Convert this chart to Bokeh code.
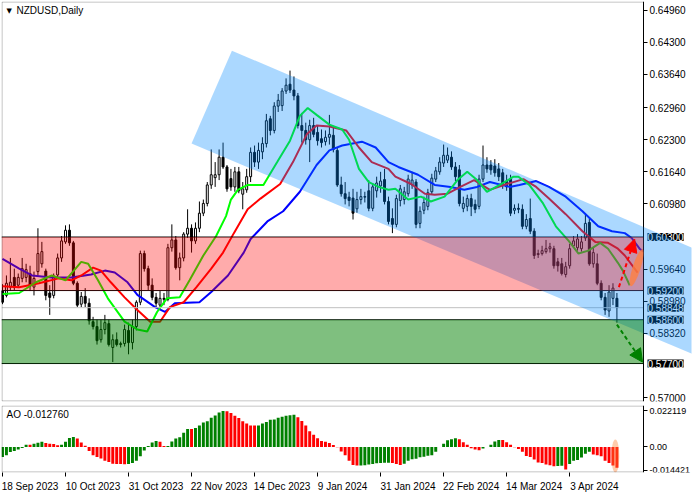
import numpy as np
from bokeh.plotting import figure
from bokeh.layouts import column
from bokeh.models import (Range1d, FixedTicker, PrintfTickFormatter, CustomJSTickFormatter,
                          BoxAnnotation, PolyAnnotation, Label, Arrow, NormalHead)
from bokeh.embed import file_html
from bokeh.resources import INLINE

# ---------------- data ----------------
opens = [
    0.5919, 0.5910, 0.5927, 0.5947, 0.5931, 0.5945, 0.5947, 0.5955, 0.5927, 0.5959,
    0.5975, 0.5960, 0.5915, 0.5910, 0.5952, 0.5987, 0.6020, 0.6044, 0.6018, 0.5935,
    0.5892, 0.5908, 0.5894, 0.5856, 0.5846, 0.5819, 0.5840, 0.5852, 0.5803, 0.5819,
    0.5809, 0.5811, 0.5838, 0.5813, 0.5846, 0.5896, 0.5996, 0.5965, 0.5931, 0.5906,
    0.5890, 0.5904, 0.5902, 0.6008, 0.6024, 0.5967, 0.5987, 0.6036, 0.6048, 0.6022,
    0.6048, 0.6079, 0.6099, 0.6137, 0.6152, 0.6158, 0.6194, 0.6174, 0.6150, 0.6133,
    0.6164, 0.6118, 0.6127, 0.6154, 0.6204, 0.6184, 0.6205, 0.6222, 0.6273, 0.6249,
    0.6299, 0.6300, 0.6330, 0.6344, 0.6332, 0.6320, 0.6259, 0.6249, 0.6230, 0.6259,
    0.6245, 0.6232, 0.6226, 0.6235, 0.6239, 0.6208, 0.6137, 0.6119, 0.6112, 0.6110,
    0.6088, 0.6107, 0.6113, 0.6125, 0.6089, 0.6125, 0.6135, 0.6148, 0.6103, 0.6068,
    0.6056, 0.6105, 0.6107, 0.6119, 0.6137, 0.6143, 0.6058, 0.6085, 0.6093, 0.6123,
    0.6149, 0.6164, 0.6182, 0.6188, 0.6194, 0.6174, 0.6168, 0.6089, 0.6093, 0.6109,
    0.6097, 0.6093, 0.6149, 0.6178, 0.6178, 0.6176, 0.6170, 0.6162, 0.6145, 0.6149,
    0.6085, 0.6089, 0.6087, 0.6052, 0.6068, 0.6042, 0.5994, 0.5996, 0.6000, 0.6006,
    0.6006, 0.5979, 0.5975, 0.5953, 0.5971, 0.6012, 0.6008, 0.6006, 0.6028, 0.6060,
    0.5975, 0.5975, 0.5935, 0.5906, 0.5878, 0.5904, 0.5904]
highs = [
    0.5933, 0.5951, 0.5987, 0.5965, 0.5955, 0.5987, 0.5975, 0.5971, 0.5959, 0.6048,
    0.6020, 0.5965, 0.5931, 0.5955, 0.5996, 0.6032, 0.6054, 0.6056, 0.6022, 0.5939,
    0.5917, 0.5925, 0.5904, 0.5866, 0.5860, 0.5860, 0.5870, 0.5860, 0.5830, 0.5834,
    0.5815, 0.5850, 0.5854, 0.5860, 0.5900, 0.6002, 0.6002, 0.5971, 0.5945, 0.5915,
    0.5919, 0.5915, 0.6016, 0.6056, 0.6032, 0.5998, 0.6040, 0.6087, 0.6056, 0.6060,
    0.6103, 0.6107, 0.6143, 0.6210, 0.6184, 0.6210, 0.6224, 0.6178, 0.6170, 0.6174,
    0.6174, 0.6143, 0.6170, 0.6214, 0.6218, 0.6224, 0.6235, 0.6283, 0.6279, 0.6307,
    0.6324, 0.6336, 0.6356, 0.6372, 0.6360, 0.6326, 0.6285, 0.6265, 0.6271, 0.6275,
    0.6259, 0.6251, 0.6249, 0.6281, 0.6255, 0.6214, 0.6154, 0.6143, 0.6123, 0.6129,
    0.6123, 0.6129, 0.6123, 0.6147, 0.6141, 0.6154, 0.6164, 0.6170, 0.6113, 0.6089,
    0.6117, 0.6137, 0.6133, 0.6158, 0.6164, 0.6149, 0.6093, 0.6113, 0.6129, 0.6160,
    0.6174, 0.6194, 0.6220, 0.6214, 0.6206, 0.6184, 0.6178, 0.6113, 0.6117, 0.6119,
    0.6107, 0.6158, 0.6218, 0.6194, 0.6188, 0.6190, 0.6182, 0.6170, 0.6158, 0.6158,
    0.6097, 0.6099, 0.6097, 0.6077, 0.6109, 0.6048, 0.6004, 0.6012, 0.6024, 0.6018,
    0.6012, 0.5987, 0.5987, 0.5979, 0.6016, 0.6032, 0.6036, 0.6032, 0.6079, 0.6068,
    0.6008, 0.5996, 0.5941, 0.5915, 0.5931, 0.5935, 0.5915]
lows = [
    0.5892, 0.5906, 0.5919, 0.5921, 0.5925, 0.5937, 0.5937, 0.5919, 0.5910, 0.5951,
    0.5967, 0.5900, 0.5870, 0.5904, 0.5945, 0.5979, 0.6016, 0.6012, 0.5931, 0.5886,
    0.5886, 0.5886, 0.5850, 0.5840, 0.5809, 0.5813, 0.5830, 0.5805, 0.5773, 0.5805,
    0.5803, 0.5805, 0.5789, 0.5799, 0.5838, 0.5890, 0.5959, 0.5921, 0.5900, 0.5886,
    0.5880, 0.5890, 0.5898, 0.6000, 0.5963, 0.5941, 0.5980, 0.6028, 0.5998, 0.6016,
    0.6040, 0.6073, 0.6093, 0.6129, 0.6133, 0.6147, 0.6170, 0.6123, 0.6125, 0.6123,
    0.6120, 0.6087, 0.6121, 0.6143, 0.6174, 0.6170, 0.6190, 0.6214, 0.6239, 0.6243,
    0.6287, 0.6289, 0.6324, 0.6326, 0.6311, 0.6253, 0.6224, 0.6220, 0.6184, 0.6235,
    0.6218, 0.6214, 0.6218, 0.6220, 0.6204, 0.6133, 0.6113, 0.6097, 0.6093, 0.6066,
    0.6080, 0.6097, 0.6101, 0.6083, 0.6083, 0.6111, 0.6121, 0.6097, 0.6056, 0.6038,
    0.6050, 0.6093, 0.6097, 0.6113, 0.6129, 0.6048, 0.6048, 0.6077, 0.6085, 0.6117,
    0.6143, 0.6158, 0.6174, 0.6182, 0.6168, 0.6145, 0.6093, 0.6081, 0.6083, 0.6073,
    0.6079, 0.6087, 0.6143, 0.6162, 0.6158, 0.6154, 0.6145, 0.6129, 0.6125, 0.6073,
    0.6077, 0.6079, 0.6046, 0.6046, 0.6036, 0.5985, 0.5987, 0.5992, 0.5996, 0.5998,
    0.5965, 0.5959, 0.5951, 0.5947, 0.5965, 0.6008, 0.6002, 0.6000, 0.6022, 0.5971,
    0.5967, 0.5931, 0.5900, 0.5870, 0.5866, 0.5890, 0.5854]
closes = [
    0.5896, 0.5935, 0.5937, 0.5927, 0.5947, 0.5965, 0.5963, 0.5929, 0.5945, 0.5996,
    0.6000, 0.5910, 0.5906, 0.5950, 0.5987, 0.6022, 0.6044, 0.6018, 0.5935, 0.5890,
    0.5908, 0.5894, 0.5858, 0.5846, 0.5817, 0.5840, 0.5854, 0.5809, 0.5819, 0.5809,
    0.5811, 0.5840, 0.5813, 0.5846, 0.5896, 0.5996, 0.5965, 0.5931, 0.5906, 0.5894,
    0.5904, 0.5902, 0.6008, 0.6024, 0.5967, 0.5987, 0.6036, 0.6048, 0.6022, 0.6048,
    0.6079, 0.6099, 0.6137, 0.6158, 0.6158, 0.6194, 0.6174, 0.6129, 0.6133, 0.6164,
    0.6125, 0.6129, 0.6154, 0.6204, 0.6184, 0.6208, 0.6222, 0.6269, 0.6249, 0.6299,
    0.6311, 0.6330, 0.6342, 0.6332, 0.6320, 0.6259, 0.6249, 0.6230, 0.6259, 0.6241,
    0.6228, 0.6224, 0.6235, 0.6241, 0.6210, 0.6137, 0.6119, 0.6109, 0.6105, 0.6079,
    0.6107, 0.6113, 0.6112, 0.6089, 0.6133, 0.6141, 0.6145, 0.6103, 0.6062, 0.6056,
    0.6109, 0.6129, 0.6123, 0.6149, 0.6147, 0.6056, 0.6083, 0.6101, 0.6121, 0.6151,
    0.6166, 0.6184, 0.6198, 0.6198, 0.6174, 0.6154, 0.6099, 0.6099, 0.6109, 0.6093,
    0.6087, 0.6149, 0.6178, 0.6170, 0.6168, 0.6162, 0.6154, 0.6137, 0.6133, 0.6079,
    0.6089, 0.6087, 0.6052, 0.6066, 0.6042, 0.5992, 0.5996, 0.6002, 0.6006, 0.6010,
    0.5971, 0.5971, 0.5955, 0.5969, 0.6006, 0.6022, 0.6026, 0.6020, 0.6058, 0.5975,
    0.5998, 0.5935, 0.5906, 0.5880, 0.5917, 0.5925, 0.58848]

# Alligator lines (bar index, price)
jaw_x = [0, 4.25, 7.5, 12.5, 17.5, 22.5, 26, 28.5, 31.75, 34.25, 38.75, 41.25, 43.75, 50, 53,
         57.25, 61.25, 63, 67.25, 71.25, 75.5, 79.75, 83, 86.25, 91.25, 94.75, 98, 100.5, 105.5,
         109.75, 113.75, 117.25, 120.5, 123.75, 128.75, 131.25, 135.5, 138.75, 143, 147.25,
         151.25, 154.75, 158, 159.75, 161.75, 162.75]
jaw_y = [0.5985, 0.5965, 0.5951, 0.5947, 0.5947, 0.5953, 0.5961, 0.5957, 0.5937, 0.5911, 0.5886,
         0.5876, 0.5894, 0.5896, 0.5917, 0.5951, 0.5998, 0.6026, 0.6062, 0.6083, 0.6123, 0.6178,
         0.6208, 0.6218, 0.6226, 0.6214, 0.6184, 0.6174, 0.6158, 0.6137, 0.6133, 0.6127, 0.6133,
         0.6143, 0.6133, 0.6137, 0.6145, 0.6133, 0.6113, 0.6083, 0.6052, 0.6042, 0.6038, 0.6028,
         0.6006, 0.6000]
teeth_x = [0, 4.25, 9.25, 14.25, 17.5, 20, 23, 25, 27.5, 31, 34.25, 37.5, 40, 42.5, 46, 49.25,
           53, 56, 58.75, 62.25, 65.5, 70.5, 73.75, 77.25, 79.75, 83, 87.25, 90.5, 93.75, 98,
           99.75, 103.75, 107.25, 109.75, 113, 116.25, 119.75, 123.75, 127.25, 132.25, 135.5,
           138.75, 143, 147.25, 150.5, 153.75, 156.25, 158, 161.25]
teeth_y = [0.5929, 0.5927, 0.5935, 0.5945, 0.5941, 0.5951, 0.5967, 0.5961, 0.5937, 0.5906,
           0.5880, 0.5856, 0.5856, 0.5886, 0.5896, 0.5927, 0.5965, 0.5998, 0.6038, 0.6087,
           0.6109, 0.6139, 0.6184, 0.6241, 0.6259, 0.6257, 0.6249, 0.6214, 0.6184, 0.6170,
           0.6154, 0.6139, 0.6119, 0.6117, 0.6119, 0.6133, 0.6147, 0.6127, 0.6137, 0.6149,
           0.6133, 0.6109, 0.6077, 0.6042, 0.6020, 0.6018, 0.6006, 0.5992, 0.5957]
lips_x = [0, 4.25, 8.5, 12.5, 16, 20, 21.75, 24.25, 26.75, 31, 34.25, 36.75, 39.25, 41.75, 45,
          47.5, 51, 54.25, 56.75, 58, 59.75, 62.25, 66.25, 69.75, 73, 75.5, 77.5, 79.75, 83,
          86.25, 88, 90.5, 93, 95.5, 98, 99.75, 103, 106.25, 108.75, 112.25, 115.5, 118, 120.5,
          123, 126.25, 129.75, 131, 133.75, 137.25, 140.5, 143.75, 146.25, 148.75, 151.75,
          153.75, 156.25, 157.5, 159.25]
lips_y = [0.5913, 0.5915, 0.5937, 0.5951, 0.5941, 0.5979, 0.5975, 0.5941, 0.5904, 0.5856,
          0.5840, 0.5836, 0.5876, 0.5904, 0.5906, 0.5941, 0.5992, 0.6032, 0.6073, 0.6107,
          0.6127, 0.6137, 0.6137, 0.6184, 0.6228, 0.6279, 0.6295, 0.6281, 0.6261, 0.6251,
          0.6230, 0.6170, 0.6143, 0.6133, 0.6127, 0.6129, 0.6107, 0.6113, 0.6103, 0.6113,
          0.6147, 0.6164, 0.6147, 0.6123, 0.6137, 0.6154, 0.6154, 0.6137, 0.6099, 0.6052,
          0.6022, 0.5996, 0.6002, 0.6018, 0.6006, 0.5977, 0.5961, 0.5931]

# Awesome Oscillator values
ao = [-0.00611, -0.00516, -0.00314, -0.00255, -0.00160, -0.00059, 0.00136, 0.00130, 0.00196, 0.00255,
      0.00314, 0.00237, 0.00196, 0.00190, 0.00101, 0.00136, 0.00314, 0.00551, 0.00611, 0.00516,
      0.00279, 0.00077, -0.00255, -0.00516, -0.00611, -0.00712, -0.00848, -0.00931, -0.01026, -0.01040,
      -0.01050, -0.01055, -0.01045, -0.00990, -0.00848, -0.00575, -0.00219, 0.00059, 0.00279, 0.00374,
      0.00314, 0.00059, 0.00065, 0.00338, 0.00516, 0.00593, 0.00872, 0.01109, 0.01100, 0.01168,
      0.01322, 0.01500, 0.01583, 0.01797, 0.01939, 0.02117, 0.022119, 0.02195, 0.02093, 0.01915,
      0.01779, 0.01583, 0.01441, 0.01322, 0.01315, 0.01320, 0.01441, 0.01542, 0.01678, 0.01690,
      0.01797, 0.01856, 0.01915, 0.01957, 0.01975, 0.01820, 0.01601, 0.01322, 0.00967, 0.00753,
      0.00534, 0.00374, 0.00314, 0.00237, 0.00119, -0.00018, -0.00279, -0.00516, -0.00848, -0.01109,
      -0.01145, -0.01140, -0.01130, -0.01085, -0.01050, -0.01008, -0.00990, -0.00975, -0.00967, -0.00990,
      -0.01050, -0.01109, -0.01030, -0.00848, -0.00760, -0.00720, -0.00634, -0.00600, -0.00545, -0.00516,
      -0.00297, 0.00005, 0.00196, 0.00415, 0.00474, 0.00534, 0.00474, 0.00297, 0.00136, -0.00077,
      -0.00160, -0.00196, -0.00101, 0.00002, 0.00136, 0.00338, 0.00433, 0.00425, 0.00297, 0.00136,
      -0.00018, -0.00119, -0.00297, -0.00551, -0.00611, -0.00771, -0.00949, -0.00990, -0.01085, -0.01127,
      -0.01180, -0.01170, -0.01160, -0.01380, -0.01050, -0.00848, -0.00800, -0.00652, -0.00415, -0.00297,
      -0.00457, -0.00516, -0.00575, -0.00848, -0.00990, -0.01145, -0.01276]

date_ticks = [0, 16, 32, 48, 64, 80, 96, 112, 128, 144]
date_labels = ["18 Sep 2023", "10 Oct 2023", "31 Oct 2023", "22 Nov 2023", "14 Dec 2023",
               "9 Jan 2024", "31 Jan 2024", "22 Feb 2024", "14 Mar 2024", "3 Apr 2024"]
price_ticks = [0.5700, 0.5832, 0.5898, 0.5964, 0.6098, 0.6164, 0.6230, 0.6296,
               0.6364, 0.6430, 0.6496]
ao_ticks = [-0.014421, 0.0, 0.022119]

# analyst drawings (data coordinates)
resist_zone = (0.5920, 0.6030)
support_zone = (0.5770, 0.5860)
current_price = 0.58848
level_prices = [0.6030, 0.5920, 0.58848, 0.5860, 0.5770]
level_texts = ["0.60300", "0.59200", "0.58848", "0.58600", "0.57700"]
chan_x = [58.25, 48.0, 178.0, 178.0]
chan_y = [0.6413, 0.6222, 0.5780, 0.5998]
up_arrow = (156.5, 0.5927, 160.5, 0.6026)
down_arrow = (156.0, 0.5850, 162.5, 0.5773)
ao_text = "AO -0.012760"
title_text = "NZDUSD,Daily"

# ---------------- layout constants ----------------
FONT = "Liberation Sans"
FS = "10px"
FS_AO = "9px"
DATA_W = 642          # px for the bar area
FRAME_W = 690         # bar area + price scale
X0, X1 = -0.25, 162.75
PPB = DATA_W / (X1 - X0)
XR = X0 + FRAME_W / PPB
Y0, Y1 = 0.5692, 0.6514
AY0, AY1 = -0.0157, 0.0255
MH, AH = 400, 67

idx = np.arange(len(closes))
o = np.array(opens); c = np.array(closes); h = np.array(highs); l = np.array(lows)


def style_price_axis(ax, ticks, fmt, size):
    ax.ticker = FixedTicker(ticks=ticks)
    ax.formatter = fmt
    ax.fixed_location = X1
    ax.major_tick_out = 4
    ax.major_tick_in = 0
    ax.minor_tick_out = 0
    ax.minor_tick_in = 0
    ax.major_label_standoff = 2
    ax.axis_line_color = "black"
    ax.major_tick_line_color = "black"
    ax.major_label_text_font = FONT
    ax.major_label_text_font_size = size
    ax.major_label_text_color = "black"


def frame_box(fig, y0, y1, hpx):
    dx = 0.5 / PPB
    dy = 0.5 * (y1 - y0) / hpx
    fig.add_layout(BoxAnnotation(left=X0 + dx, right=X1, bottom=y0 + dy, top=y1 - dy,
                                 fill_alpha=0, line_color="black", line_width=1, level="overlay"))


# ---------------- main price panel ----------------
p = figure(frame_width=FRAME_W, frame_height=MH, x_range=Range1d(X0, XR),
           y_range=Range1d(Y0, Y1), x_axis_location=None, y_axis_location="right",
           output_backend="svg", toolbar_location=None, min_border_left=1, min_border_right=1,
           min_border_top=1, min_border_bottom=3)
p.grid.grid_line_color = None
p.outline_line_color = None
p.background_fill_color = "white"
p.border_fill_color = "white"
style_price_axis(p.yaxis[0], price_ticks, PrintfTickFormatter(format="%.5f"), FS)

# candles
p.segment(x0=idx, y0=h, x1=idx, y1=l, line_color="black", line_width=1)
body_col = ["white" if cc >= oo else "black" for oo, cc in zip(o, c)]
p.vbar(x=idx, width=0.5, top=np.maximum(o, c), bottom=np.minimum(o, c),
       fill_color=body_col, line_color="black", line_width=1)

# alligator
p.line(jaw_x, jaw_y, line_color="#0000ff", line_width=2)
p.line(teeth_x, teeth_y, line_color="#ff0000", line_width=2)
p.line(lips_x, lips_y, line_color="#00ff00", line_width=2)

# horizontal levels (under the translucent drawings)
zone_edges = [resist_zone[0], resist_zone[1], support_zone[0], support_zone[1]]
p.segment(x0=[X0] * 4, y0=zone_edges, x1=[X1] * 4, y1=zone_edges, line_color="black", line_width=1)
p.segment(x0=[X0], y0=[current_price], x1=[X1], y1=[current_price], line_color="#c0c0c0",
          line_width=1)

# price-scale level tags
for val, txt in zip(level_prices, level_texts):
    p.add_layout(Label(x=X1, y=val, x_offset=4, text=txt, text_font=FONT, text_font_size=FS,
                       text_color="white", text_baseline="middle", text_align="left",
                       background_fill_color="black", background_fill_alpha=1.0))

# translucent drawings
p.add_layout(PolyAnnotation(xs=chan_x, ys=chan_y, fill_color="#0088ff", fill_alpha=0.33,
                            line_color=None))
p.add_layout(BoxAnnotation(left=X0, right=X1, bottom=resist_zone[0], top=resist_zone[1],
                           fill_color="#ff0000", fill_alpha=0.33, line_color=None))
p.add_layout(BoxAnnotation(left=X0, right=X1, bottom=support_zone[0], top=support_zone[1],
                           fill_color="#008000", fill_alpha=0.5, line_color=None))

p.add_layout(Arrow(end=NormalHead(size=13, fill_color="#ff0000", line_color="#ff0000"),
                   x_start=up_arrow[0], y_start=up_arrow[1], x_end=up_arrow[2], y_end=up_arrow[3],
                   line_color="#ff0000", line_width=2, line_dash="4 3", level="overlay"))
p.add_layout(Arrow(end=NormalHead(size=13, fill_color="#008000", line_color="#008000"),
                   x_start=down_arrow[0], y_start=down_arrow[1], x_end=down_arrow[2],
                   y_end=down_arrow[3], line_color="#008000", line_width=2, line_dash="4 3",
                   level="overlay"))
p.ellipse(x=[161.0], y=[0.5967], width=8, height=39, width_units="screen", height_units="screen",
          angle=-0.31, fill_color="#ff8040", fill_alpha=0.8, line_color=None, level="overlay")

frame_box(p, Y0, Y1, MH)

p.add_layout(Label(x=X0, y=Y1, x_offset=5, y_offset=-9, text="\u25bc", text_font="DejaVu Sans",
                   text_font_size="7px", text_color="black", text_baseline="middle"))
p.add_layout(Label(x=X0, y=Y1, x_offset=15, y_offset=-9, text=title_text, text_font=FONT,
                   text_font_size=FS, text_color="black", text_baseline="middle"))

# ---------------- AO panel ----------------
q = figure(frame_width=FRAME_W, frame_height=AH, x_range=p.x_range, y_range=Range1d(AY0, AY1),
           y_axis_location="right", x_axis_location="below", output_backend="svg",
           toolbar_location=None, min_border_left=1, min_border_right=1, min_border_top=1,
           min_border_bottom=2)
q.grid.grid_line_color = None
q.outline_line_color = None
q.background_fill_color = "white"
q.border_fill_color = "white"

ao_col = ["#008000"] + ["#008000" if ao[i] > ao[i - 1] else "#ff0000" for i in range(1, len(ao))]
q.vbar(x=idx, width=0.75, top=ao, bottom=0, fill_color=ao_col, line_color=None)
q.ellipse(x=[155.6], y=[-0.0056], width=8, height=33, width_units="screen", height_units="screen",
          fill_color="#ff8030", fill_alpha=0.4, line_color=None)

style_price_axis(q.yaxis[0], ao_ticks, CustomJSTickFormatter(
    code="return Math.abs(tick) < 1e-12 ? '0.00' : tick.toFixed(6);"), FS_AO)

label_pos = [t + (5.0 * len(s) / 2.0) / PPB for t, s in zip(date_ticks, date_labels)]
qx = q.xaxis[0]
qx.ticker = FixedTicker(ticks=label_pos, minor_ticks=date_ticks)
qx.formatter = CustomJSTickFormatter(args=dict(labels=date_labels), code="return labels[index];")
qx.major_tick_out = 0
qx.major_tick_in = 0
qx.minor_tick_out = 4
qx.minor_tick_in = 0
qx.minor_tick_line_color = "black"
qx.axis_line_color = None
qx.major_label_standoff = 4
qx.major_label_text_font = FONT
qx.major_label_text_font_size = FS
qx.major_label_text_color = "black"

frame_box(q, AY0, AY1, AH)

q.add_layout(Label(x=X0, y=AY1, x_offset=5, y_offset=-9, text=ao_text, text_font=FONT,
                   text_font_size=FS, text_color="black", text_baseline="middle"))

layout = column(p, q, spacing=0)
open("out.html", "w").write(file_html(layout, INLINE))
